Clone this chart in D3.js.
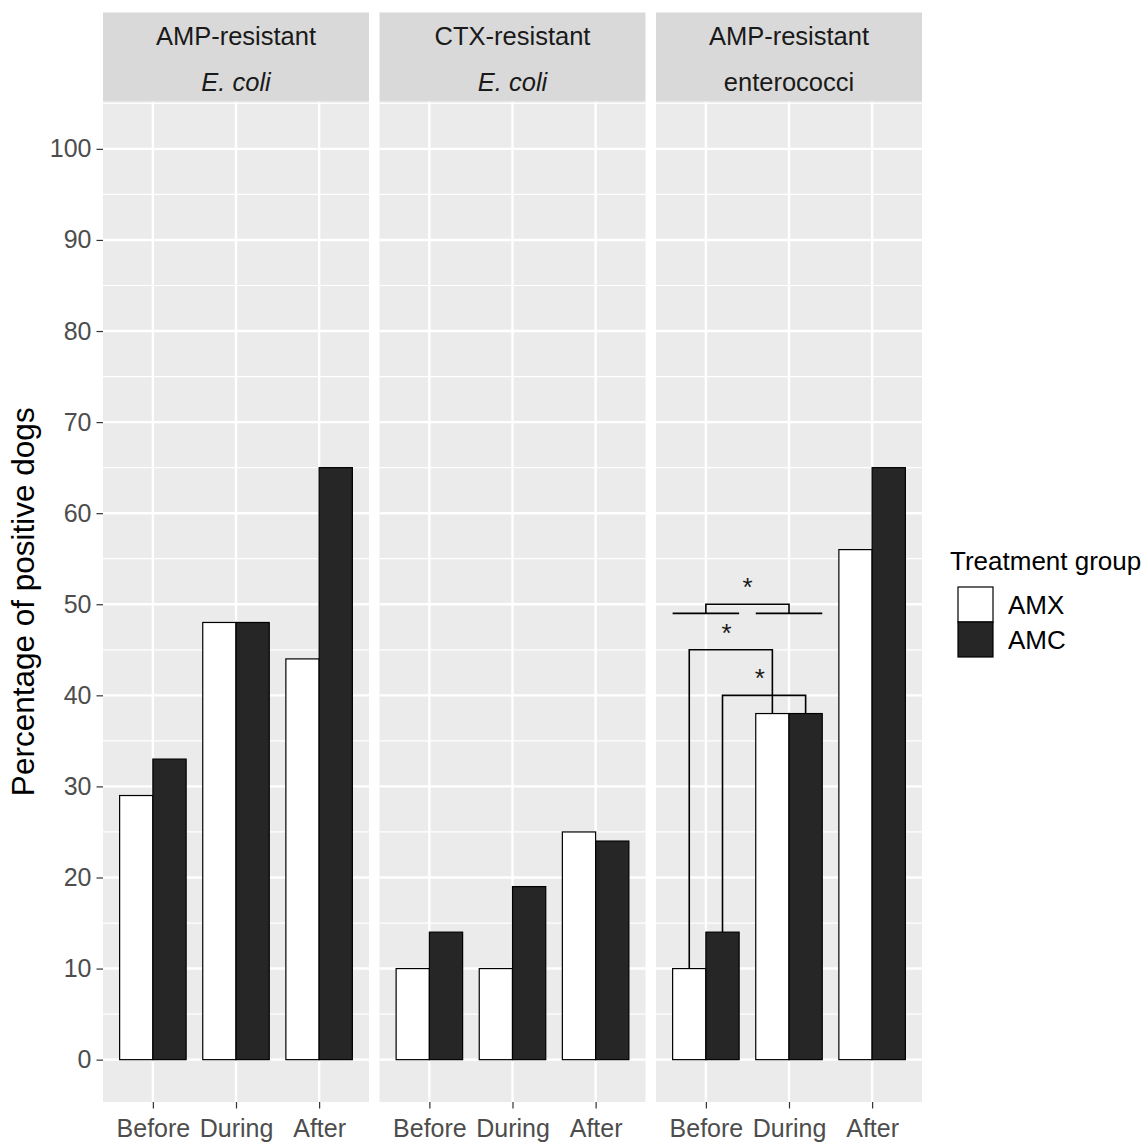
<!DOCTYPE html>
<html>
<head>
<meta charset="utf-8">
<script src="https://cdn.jsdelivr.net/npm/d3@7"></script>
<style>
  body { margin: 0; background: #fff; }
  svg text { font-family: "Liberation Sans", Arial, sans-serif; }
</style>
</head>
<body>
<div id="chart"></div>
<script>
// data
const categories = ["Before", "During", "After"];
const groups = ["AMX", "AMC"];
const stripLine1 = ["AMP-resistant", "CTX-resistant", "AMP-resistant"];
const stripLine2 = ["E. coli", "E. coli", "enterococci"];
const stripItalic = [true, true, false];
const amxValues = [[29, 48, 44], [10, 10, 25], [10, 38, 56]];
const amcValues = [[33, 48, 65], [14, 19, 24], [14, 38, 65]];
const yTicks = [0, 10, 20, 30, 40, 50, 60, 70, 80, 90, 100];

// significance marks, third panel only (x in category units, y in %)
const sigLines = [
  [[0.8, 10], [0.8, 45], [1.8, 45], [1.8, 38]],
  [[1.2, 14], [1.2, 40], [2.2, 40], [2.2, 38]],
  [[1, 49], [1, 50], [2, 50], [2, 49]],
  [[0.6, 49], [1.4, 49]],
  [[1.6, 49], [2.4, 49]]
];
const sigStars = [[1.5, 52.5], [1.25, 47.5], [1.65, 42.5]];

const width = 1148, height = 1145;
const panelLeft = 103, panelW = 266, panelGap = 10.5;
const stripTop = 12.5, panelTop = 101.5, panelBottom = 1102;
const fillColor = { AMX: "#ffffff", AMC: "#262626" };

const svg = d3.select("#chart").append("svg")
  .attr("width", width)
  .attr("height", height);

svg.append("rect").attr("width", width).attr("height", height).attr("fill", "#fff");

const y = d3.scaleLinear()
  .domain([-4.65, 105.2])
  .range([panelBottom, panelTop]);

const minorTicks = d3.range(5, 106, 10);

stripLine1.forEach((label, p) => {
  const x0 = panelLeft + p * (panelW + panelGap);
  const x = d3.scaleLinear().domain([0.4, 3.6]).range([x0, x0 + panelW]);

  const g = svg.append("g");

  // panel background
  g.append("rect")
    .attr("x", x0).attr("y", panelTop)
    .attr("width", panelW).attr("height", panelBottom - panelTop)
    .attr("fill", "#ebebeb");

  // grid
  g.selectAll(".minor")
    .data(minorTicks)
    .enter().append("line")
    .attr("x1", x0).attr("x2", x0 + panelW)
    .attr("y1", d => y(d)).attr("y2", d => y(d))
    .attr("stroke", "#fff").attr("stroke-width", 1.2);

  g.selectAll(".major")
    .data(yTicks)
    .enter().append("line")
    .attr("x1", x0).attr("x2", x0 + panelW)
    .attr("y1", d => y(d)).attr("y2", d => y(d))
    .attr("stroke", "#fff").attr("stroke-width", 2.4);

  g.selectAll(".vmajor")
    .data([1, 2, 3])
    .enter().append("line")
    .attr("x1", d => x(d)).attr("x2", d => x(d))
    .attr("y1", panelTop).attr("y2", panelBottom)
    .attr("stroke", "#fff").attr("stroke-width", 2.4);

  // strip
  g.append("rect")
    .attr("x", x0).attr("y", stripTop)
    .attr("width", panelW).attr("height", panelTop - stripTop)
    .attr("fill", "#d9d9d9");

  g.append("text")
    .attr("x", x0 + panelW / 2).attr("y", 45)
    .attr("text-anchor", "middle")
    .attr("font-size", 25.5)
    .attr("fill", "#1a1a1a")
    .text(label);

  g.append("text")
    .attr("x", x0 + panelW / 2).attr("y", 91)
    .attr("text-anchor", "middle")
    .attr("font-size", 25.5)
    .attr("font-style", stripItalic[p] ? "italic" : "normal")
    .attr("fill", "#1a1a1a")
    .text(stripLine2[p]);

  // bars
  const bars = [];
  categories.forEach((c, i) => {
    bars.push({ group: "AMX", x0: i + 1 - 0.4, x1: i + 1, v: amxValues[p][i] });
    bars.push({ group: "AMC", x0: i + 1, x1: i + 1.4, v: amcValues[p][i] });
  });

  g.selectAll(".bar")
    .data(bars)
    .enter().append("rect")
    .attr("x", d => x(d.x0))
    .attr("width", d => x(d.x1) - x(d.x0))
    .attr("y", d => y(d.v))
    .attr("height", d => y(0) - y(d.v))
    .attr("fill", d => fillColor[d.group])
    .attr("stroke", "#000")
    .attr("stroke-width", 1.2);

  // x axis
  const xAxis = g.append("g")
    .attr("transform", `translate(0,${panelBottom})`)
    .call(d3.axisBottom(x)
      .tickValues([1, 2, 3])
      .tickFormat(d => categories[d - 1])
      .tickSize(6.5)
      .tickPadding(11));
  xAxis.select(".domain").remove();
  xAxis.selectAll("line").attr("stroke", "#333").attr("stroke-width", 1.2);
  xAxis.selectAll("text")
    .attr("font-size", 25)
    .attr("fill", "#4d4d4d")
    .attr("font-family", "Liberation Sans, Arial, sans-serif");

  // significance marks on the third panel
  if (p === 2) {
    const line = d3.line().x(d => x(d[0])).y(d => y(d[1]));
    g.selectAll(".sig")
      .data(sigLines)
      .enter().append("path")
      .attr("d", line)
      .attr("fill", "none")
      .attr("stroke", "#000")
      .attr("stroke-width", 1.6);

    g.selectAll(".star")
      .data(sigStars)
      .enter().append("text")
      .attr("x", d => x(d[0]))
      .attr("y", d => y(d[1]))
      .attr("dy", "0.57em")
      .attr("text-anchor", "middle")
      .attr("font-size", 26)
      .attr("fill", "#1a1a1a")
      .text("*");
  }
});

// y axis
const yAxis = svg.append("g")
  .attr("transform", `translate(${panelLeft},0)`)
  .call(d3.axisLeft(y).tickValues(yTicks).tickSize(6.5).tickPadding(5));
yAxis.select(".domain").remove();
yAxis.selectAll("line").attr("stroke", "#333").attr("stroke-width", 1.2);
yAxis.selectAll("text")
  .attr("font-size", 25)
  .attr("fill", "#4d4d4d")
  .attr("font-family", "Liberation Sans, Arial, sans-serif");

svg.append("text")
  .attr("transform", `translate(34,${(panelTop + panelBottom) / 2}) rotate(-90)`)
  .attr("text-anchor", "middle")
  .attr("font-size", 31.5)
  .attr("fill", "#000")
  .text("Percentage of positive dogs");

// legend
const legend = svg.append("g");
legend.append("text")
  .attr("x", 950).attr("y", 570)
  .attr("font-size", 26)
  .attr("fill", "#000")
  .text("Treatment group");

const keyY = d3.scaleBand().domain(groups).range([587, 657]);

legend.selectAll(".key")
  .data(groups)
  .enter().append("rect")
  .attr("x", 958)
  .attr("y", d => keyY(d))
  .attr("width", 35)
  .attr("height", keyY.bandwidth())
  .attr("fill", d => fillColor[d])
  .attr("stroke", "#000")
  .attr("stroke-width", 1.2);

legend.selectAll(".lab")
  .data(groups)
  .enter().append("text")
  .attr("x", 1008)
  .attr("y", d => keyY(d) + keyY.bandwidth() / 2)
  .attr("dy", "0.36em")
  .attr("font-size", 26)
  .attr("fill", "#000")
  .text(d => d);
</script>
</body>
</html>
